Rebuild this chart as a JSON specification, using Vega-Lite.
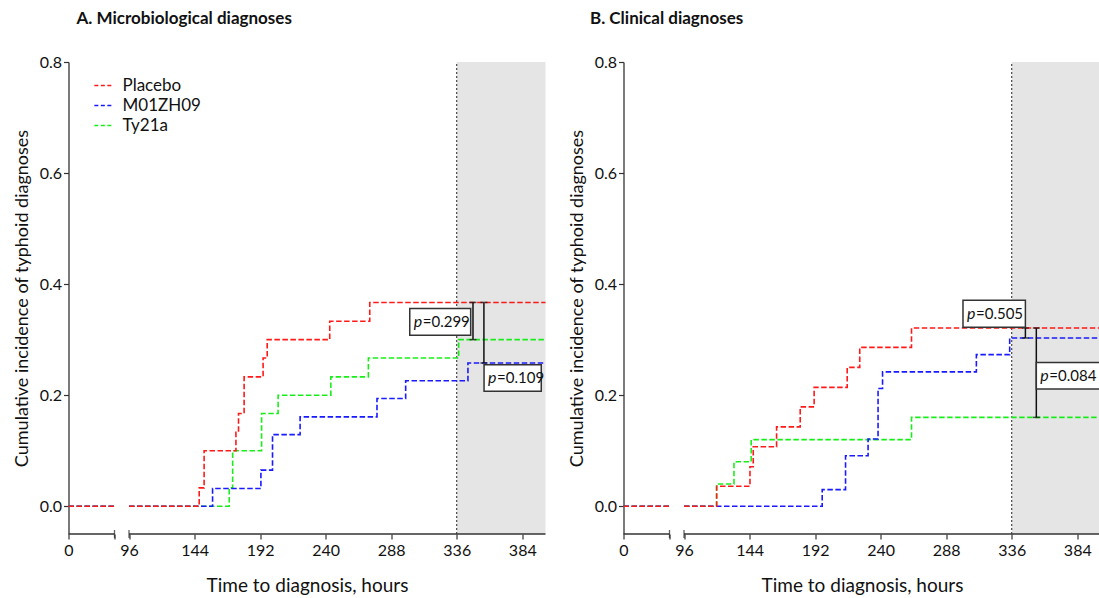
{
  "$schema": "https://vega.github.io/schema/vega-lite/v6.json",
  "padding": {"left": 12.5, "top": 10, "right": 0, "bottom": 0},
  "config": {"font": "Lato", "view": {"stroke": null}, "concat": {"spacing": 18}},
  "resolve": {"legend": {"color": "independent"}, "scale": {"color": "independent"}},
  "datasets": {
    "shade": [
      {"panel": "A", "t": 336, "t2": 401, "y": -0.05, "y2": 0.8},
      {"panel": "B", "t": 336, "t2": 401, "y": -0.05, "y2": 0.8}
    ],
    "axisline": [
      {"panel": "A", "t": 0, "t2": 72, "y": -0.05},
      {"panel": "A", "t": 96, "t2": 401, "y": -0.05},
      {"panel": "B", "t": 0, "t2": 72, "y": -0.05},
      {"panel": "B", "t": 96, "t2": 401, "y": -0.05}
    ],
    "breaks": [
      {"panel": "A", "t": 72, "y": -0.05},
      {"panel": "A", "t": 96, "y": -0.05},
      {"panel": "B", "t": 72, "y": -0.05},
      {"panel": "B", "t": 96, "y": -0.05}
    ],
    "curves": [
      {"panel": "A", "group": "Ty21a", "seg": "a", "t": 0, "y": 0},
      {"panel": "A", "group": "Ty21a", "seg": "a", "t": 72, "y": 0},
      {"panel": "A", "group": "Ty21a", "seg": "b", "t": 96, "y": 0},
      {"panel": "A", "group": "Ty21a", "seg": "b", "t": 169.4, "y": 0.033},
      {"panel": "A", "group": "Ty21a", "seg": "b", "t": 171.9, "y": 0.1},
      {"panel": "A", "group": "Ty21a", "seg": "b", "t": 193.1, "y": 0.167},
      {"panel": "A", "group": "Ty21a", "seg": "b", "t": 205.2, "y": 0.2},
      {"panel": "A", "group": "Ty21a", "seg": "b", "t": 243.8, "y": 0.233},
      {"panel": "A", "group": "Ty21a", "seg": "b", "t": 271.3, "y": 0.267},
      {"panel": "A", "group": "Ty21a", "seg": "b", "t": 337.4, "y": 0.3},
      {"panel": "A", "group": "Ty21a", "seg": "b", "t": 401, "y": 0.3},
      {"panel": "A", "group": "M01ZH09", "seg": "a", "t": 0, "y": 0},
      {"panel": "A", "group": "M01ZH09", "seg": "a", "t": 72, "y": 0},
      {"panel": "A", "group": "M01ZH09", "seg": "b", "t": 96, "y": 0},
      {"panel": "A", "group": "M01ZH09", "seg": "b", "t": 157.2, "y": 0.032},
      {"panel": "A", "group": "M01ZH09", "seg": "b", "t": 192.6, "y": 0.065},
      {"panel": "A", "group": "M01ZH09", "seg": "b", "t": 201.1, "y": 0.129},
      {"panel": "A", "group": "M01ZH09", "seg": "b", "t": 221.3, "y": 0.161},
      {"panel": "A", "group": "M01ZH09", "seg": "b", "t": 277.6, "y": 0.194},
      {"panel": "A", "group": "M01ZH09", "seg": "b", "t": 298.6, "y": 0.226},
      {"panel": "A", "group": "M01ZH09", "seg": "b", "t": 344.2, "y": 0.258},
      {"panel": "A", "group": "M01ZH09", "seg": "b", "t": 401, "y": 0.258},
      {"panel": "A", "group": "Placebo", "seg": "a", "t": 0, "y": 0},
      {"panel": "A", "group": "Placebo", "seg": "a", "t": 72, "y": 0},
      {"panel": "A", "group": "Placebo", "seg": "b", "t": 96, "y": 0},
      {"panel": "A", "group": "Placebo", "seg": "b", "t": 147.4, "y": 0.033},
      {"panel": "A", "group": "Placebo", "seg": "b", "t": 151, "y": 0.1},
      {"panel": "A", "group": "Placebo", "seg": "b", "t": 174.3, "y": 0.133},
      {"panel": "A", "group": "Placebo", "seg": "b", "t": 176.2, "y": 0.167},
      {"panel": "A", "group": "Placebo", "seg": "b", "t": 180.3, "y": 0.233},
      {"panel": "A", "group": "Placebo", "seg": "b", "t": 194.2, "y": 0.267},
      {"panel": "A", "group": "Placebo", "seg": "b", "t": 197.2, "y": 0.3},
      {"panel": "A", "group": "Placebo", "seg": "b", "t": 243, "y": 0.333},
      {"panel": "A", "group": "Placebo", "seg": "b", "t": 272.3, "y": 0.367},
      {"panel": "A", "group": "Placebo", "seg": "b", "t": 401, "y": 0.367},
      {"panel": "B", "group": "Ty21a", "seg": "a", "t": 0, "y": 0},
      {"panel": "B", "group": "Ty21a", "seg": "a", "t": 72, "y": 0},
      {"panel": "B", "group": "Ty21a", "seg": "b", "t": 96, "y": 0},
      {"panel": "B", "group": "Ty21a", "seg": "b", "t": 119.9, "y": 0.04},
      {"panel": "B", "group": "Ty21a", "seg": "b", "t": 132.6, "y": 0.08},
      {"panel": "B", "group": "Ty21a", "seg": "b", "t": 145.2, "y": 0.12},
      {"panel": "B", "group": "Ty21a", "seg": "b", "t": 262.6, "y": 0.16},
      {"panel": "B", "group": "Ty21a", "seg": "b", "t": 401, "y": 0.16},
      {"panel": "B", "group": "M01ZH09", "seg": "a", "t": 0, "y": 0},
      {"panel": "B", "group": "M01ZH09", "seg": "a", "t": 72, "y": 0},
      {"panel": "B", "group": "M01ZH09", "seg": "b", "t": 96, "y": 0},
      {"panel": "B", "group": "M01ZH09", "seg": "b", "t": 197.2, "y": 0.03},
      {"panel": "B", "group": "M01ZH09", "seg": "b", "t": 214.3, "y": 0.091},
      {"panel": "B", "group": "M01ZH09", "seg": "b", "t": 230.8, "y": 0.121},
      {"panel": "B", "group": "M01ZH09", "seg": "b", "t": 238.1, "y": 0.212},
      {"panel": "B", "group": "M01ZH09", "seg": "b", "t": 241.4, "y": 0.242},
      {"panel": "B", "group": "M01ZH09", "seg": "b", "t": 310.1, "y": 0.273},
      {"panel": "B", "group": "M01ZH09", "seg": "b", "t": 334.5, "y": 0.303},
      {"panel": "B", "group": "M01ZH09", "seg": "b", "t": 401, "y": 0.303},
      {"panel": "B", "group": "Placebo", "seg": "a", "t": 0, "y": 0},
      {"panel": "B", "group": "Placebo", "seg": "a", "t": 72, "y": 0},
      {"panel": "B", "group": "Placebo", "seg": "b", "t": 96, "y": 0},
      {"panel": "B", "group": "Placebo", "seg": "b", "t": 119.9, "y": 0.036},
      {"panel": "B", "group": "Placebo", "seg": "b", "t": 144.3, "y": 0.071},
      {"panel": "B", "group": "Placebo", "seg": "b", "t": 146.7, "y": 0.107},
      {"panel": "B", "group": "Placebo", "seg": "b", "t": 163.8, "y": 0.143},
      {"panel": "B", "group": "Placebo", "seg": "b", "t": 181.1, "y": 0.179},
      {"panel": "B", "group": "Placebo", "seg": "b", "t": 191.3, "y": 0.214},
      {"panel": "B", "group": "Placebo", "seg": "b", "t": 215.5, "y": 0.25},
      {"panel": "B", "group": "Placebo", "seg": "b", "t": 224.7, "y": 0.286},
      {"panel": "B", "group": "Placebo", "seg": "b", "t": 262.6, "y": 0.321},
      {"panel": "B", "group": "Placebo", "seg": "b", "t": 401, "y": 0.321}
    ],
    "errs": [
      {"panel": "A", "t": 347.9, "y": 0.3, "y2": 0.367},
      {"panel": "A", "t": 355.9, "y": 0.258, "y2": 0.367},
      {"panel": "B", "t": 346, "y": 0.303, "y2": 0.321},
      {"panel": "B", "t": 354, "y": 0.16, "y2": 0.321}
    ],
    "caps": [
      {"panel": "A", "t": 347.9, "y": 0.367},
      {"panel": "A", "t": 347.9, "y": 0.3},
      {"panel": "A", "t": 355.9, "y": 0.367},
      {"panel": "A", "t": 355.9, "y": 0.258},
      {"panel": "B", "t": 346, "y": 0.321},
      {"panel": "B", "t": 346, "y": 0.303},
      {"panel": "B", "t": 354, "y": 0.321},
      {"panel": "B", "t": 354, "y": 0.16}
    ],
    "boxes": [
      {"panel": "A", "t": 301.6, "t2": 346.2, "y": 0.308, "y2": 0.356},
      {"panel": "A", "t": 356, "t2": 397.9, "y": 0.207, "y2": 0.255},
      {"panel": "B", "t": 300.3, "t2": 346, "y": 0.3225, "y2": 0.371},
      {"panel": "B", "t": 354, "t2": 412, "y": 0.211, "y2": 0.259}
    ],
    "labels": [
      {"panel": "A", "t": 301.6, "y": 0.332, "label": "=0.299"},
      {"panel": "A", "t": 356, "y": 0.231, "label": "=0.109"},
      {"panel": "B", "t": 300.3, "y": 0.347, "label": "=0.505"},
      {"panel": "B", "t": 354, "y": 0.235, "label": "=0.084"}
    ]
  },
  "hconcat": [
    {
      "title": {"text": "A. Microbiological diagnoses", "anchor": "start", "frame": "group", "dx": 8, "offset": 26, "fontSize": 17, "fontWeight": "bold", "color": "#111"},
      "width": 477,
      "height": 472,
      "encoding": {
        "x": {"field": "t", "type": "quantitative",
          "scale": {"domain": [0, 72, 96, 401], "range": [0, 46, 60.5, 477], "nice": false, "zero": false},
          "axis": {"title": "Time to diagnosis, hours", "values": [0, 72, 96, 144, 192, 240, 288, 336, 384], "labelExpr": "datum.value == 72 ? '' : datum.label", "format": "d", "domain": false, "grid": false, "tickSize": 5, "tickColor": "#333", "tickWidth": 1.2, "labelFontSize": 16, "labelPadding": 3, "labelColor": "#111", "labelFlush": false, "titleFontSize": 19, "titleFontWeight": "normal", "titleColor": "#111", "titlePadding": 18}},
        "y": {"field": "y", "type": "quantitative",
          "scale": {"domain": [-0.05, 0.8], "nice": false, "zero": false},
          "axis": {"title": "Cumulative incidence of typhoid diagnoses", "values": [0, 0.2, 0.4, 0.6, 0.8], "format": ".1f", "grid": false, "domainColor": "#333", "domainWidth": 1.3, "tickSize": 5, "tickColor": "#333", "tickWidth": 1.2, "labelFontSize": 16, "labelPadding": 2, "labelColor": "#111", "titleFontSize": 18, "titleFontWeight": "normal", "titleColor": "#111", "titlePadding": 8}}
      },
      "layer": [
        {"data": {"name": "shade"}, "transform": [{"filter": "datum.panel == 'A'"}], "mark": {"type": "rect", "color": "#e5e5e5"}, "encoding": {"x2": {"field": "t2"}, "y2": {"field": "y2"}}},
        {"data": {"name": "shade"}, "transform": [{"filter": "datum.panel == 'A'"}], "mark": {"type": "rule", "color": "#222", "strokeDash": [2, 2], "strokeWidth": 1}, "encoding": {"y2": {"field": "y2"}}},
        {"data": {"name": "axisline"}, "transform": [{"filter": "datum.panel == 'A'"}], "mark": {"type": "rule", "color": "#333", "strokeWidth": 1.5}, "encoding": {"x2": {"field": "t2"}}},
        {"data": {"name": "breaks"}, "transform": [{"filter": "datum.panel == 'A'"}], "mark": {"type": "tick", "orient": "vertical", "color": "#222", "size": 8, "thickness": 1.3}},
        {"data": {"name": "curves"}, "transform": [{"filter": "datum.panel == 'A'"}],
          "mark": {"type": "line", "interpolate": "step-after", "strokeDash": [5.5, 2.5], "strokeWidth": 1.6},
          "encoding": {
            "color": {"field": "group", "type": "nominal", "sort": null,
              "scale": {"domain": ["Placebo", "M01ZH09", "Ty21a"], "range": ["#ff1a1a", "#1a1aff", "#1aee1a"]},
              "legend": {"orient": "none", "legendX": 25, "legendY": 14, "title": null, "symbolType": "stroke", "symbolSize": 300, "symbolStrokeWidth": 1.5, "symbolDash": [4, 2.5], "labelFontSize": 17, "labelColor": "#111", "rowPadding": 2, "labelOffset": 10, "padding": 0}},
            "detail": {"field": "seg"}
          }},
        {"data": {"name": "errs"}, "transform": [{"filter": "datum.panel == 'A'"}], "mark": {"type": "rule", "color": "#111", "strokeWidth": 1.5}, "encoding": {"y2": {"field": "y2"}}},
        {"data": {"name": "caps"}, "transform": [{"filter": "datum.panel == 'A'"}], "mark": {"type": "tick", "orient": "horizontal", "color": "#111", "size": 7, "thickness": 1.5}},
        {"data": {"name": "boxes"}, "transform": [{"filter": "datum.panel == 'A'"}], "mark": {"type": "rect", "fill": "white", "stroke": "#333", "strokeWidth": 1.5}, "encoding": {"x2": {"field": "t2"}, "y2": {"field": "y2"}}},
        {"data": {"name": "labels"}, "transform": [{"filter": "datum.panel == 'A'"}], "mark": {"type": "text", "text": "p", "fontStyle": "italic", "align": "left", "baseline": "middle", "dx": 4, "fontSize": 16, "color": "#111"}},
        {"data": {"name": "labels"}, "transform": [{"filter": "datum.panel == 'A'"}], "mark": {"type": "text", "align": "left", "baseline": "middle", "dx": 13, "fontSize": 15, "color": "#111"}, "encoding": {"text": {"field": "label"}}}
      ]
    },
    {
      "title": {"text": "B. Clinical diagnoses", "anchor": "start", "frame": "group", "dx": -33.5, "offset": 26, "fontSize": 17, "fontWeight": "bold", "color": "#111"},
      "width": 477,
      "height": 472,
      "encoding": {
        "x": {"field": "t", "type": "quantitative",
          "scale": {"domain": [0, 72, 96, 401], "range": [0, 46, 60.5, 477], "nice": false, "zero": false},
          "axis": {"title": "Time to diagnosis, hours", "values": [0, 72, 96, 144, 192, 240, 288, 336, 384], "labelExpr": "datum.value == 72 ? '' : datum.label", "format": "d", "domain": false, "grid": false, "tickSize": 5, "tickColor": "#333", "tickWidth": 1.2, "labelFontSize": 16, "labelPadding": 3, "labelColor": "#111", "labelFlush": false, "titleFontSize": 19, "titleFontWeight": "normal", "titleColor": "#111", "titlePadding": 18}},
        "y": {"field": "y", "type": "quantitative",
          "scale": {"domain": [-0.05, 0.8], "nice": false, "zero": false},
          "axis": {"title": "Cumulative incidence of typhoid diagnoses", "values": [0, 0.2, 0.4, 0.6, 0.8], "format": ".1f", "grid": false, "domainColor": "#333", "domainWidth": 1.3, "tickSize": 5, "tickColor": "#333", "tickWidth": 1.2, "labelFontSize": 16, "labelPadding": 2, "labelColor": "#111", "titleFontSize": 18, "titleFontWeight": "normal", "titleColor": "#111", "titlePadding": 8}}
      },
      "layer": [
        {"data": {"name": "shade"}, "transform": [{"filter": "datum.panel == 'B'"}], "mark": {"type": "rect", "color": "#e5e5e5"}, "encoding": {"x2": {"field": "t2"}, "y2": {"field": "y2"}}},
        {"data": {"name": "shade"}, "transform": [{"filter": "datum.panel == 'B'"}], "mark": {"type": "rule", "color": "#222", "strokeDash": [2, 2], "strokeWidth": 1}, "encoding": {"y2": {"field": "y2"}}},
        {"data": {"name": "axisline"}, "transform": [{"filter": "datum.panel == 'B'"}], "mark": {"type": "rule", "color": "#333", "strokeWidth": 1.5}, "encoding": {"x2": {"field": "t2"}}},
        {"data": {"name": "breaks"}, "transform": [{"filter": "datum.panel == 'B'"}], "mark": {"type": "tick", "orient": "vertical", "color": "#222", "size": 8, "thickness": 1.3}},
        {"data": {"name": "curves"}, "transform": [{"filter": "datum.panel == 'B'"}],
          "mark": {"type": "line", "interpolate": "step-after", "strokeDash": [5.5, 2.5], "strokeWidth": 1.6},
          "encoding": {
            "color": {"field": "group", "type": "nominal", "sort": null,
              "scale": {"domain": ["Placebo", "M01ZH09", "Ty21a"], "range": ["#ff1a1a", "#1a1aff", "#1aee1a"]},
              "legend": null},
            "detail": {"field": "seg"}
          }},
        {"data": {"name": "errs"}, "transform": [{"filter": "datum.panel == 'B'"}], "mark": {"type": "rule", "color": "#111", "strokeWidth": 1.5}, "encoding": {"y2": {"field": "y2"}}},
        {"data": {"name": "caps"}, "transform": [{"filter": "datum.panel == 'B'"}], "mark": {"type": "tick", "orient": "horizontal", "color": "#111", "size": 7, "thickness": 1.5}},
        {"data": {"name": "boxes"}, "transform": [{"filter": "datum.panel == 'B'"}], "mark": {"type": "rect", "fill": "white", "stroke": "#333", "strokeWidth": 1.5}, "encoding": {"x2": {"field": "t2"}, "y2": {"field": "y2"}}},
        {"data": {"name": "labels"}, "transform": [{"filter": "datum.panel == 'B'"}], "mark": {"type": "text", "text": "p", "fontStyle": "italic", "align": "left", "baseline": "middle", "dx": 4, "fontSize": 16, "color": "#111"}},
        {"data": {"name": "labels"}, "transform": [{"filter": "datum.panel == 'B'"}], "mark": {"type": "text", "align": "left", "baseline": "middle", "dx": 13, "fontSize": 15, "color": "#111"}, "encoding": {"text": {"field": "label"}}}
      ]
    }
  ]
}
